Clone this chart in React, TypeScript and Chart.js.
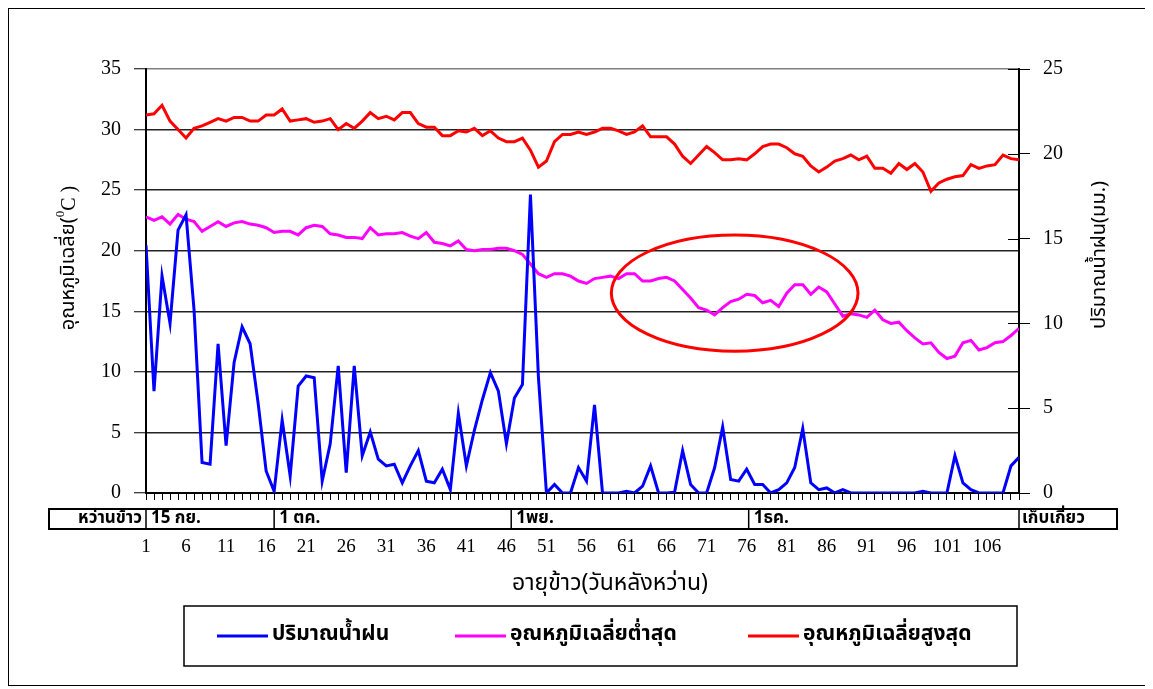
import React, { useEffect, useRef } from 'react';
import { Chart, registerables } from 'chart.js';

Chart.register(...registerables);

// ---------- data ----------
const days: number[] = Array.from({ length: 110 }, (_, i) => i + 1);

const rainfall: number[] = [
  14.6, 6.0, 12.8, 10.0, 15.5, 16.4, 10.8, 1.8, 1.7, 8.8,
  2.8, 7.7, 9.8, 8.8, 5.3, 1.3, 0.1, 4.3, 1.0, 6.3,
  6.9, 6.8, 0.7, 2.9, 7.5, 1.2, 7.5, 2.2, 3.6, 2.0,
  1.6, 1.7, 0.6, 1.6, 2.5, 0.7, 0.6, 1.4, 0.2, 4.7,
  1.6, 3.7, 5.5, 7.1, 6.0, 2.9, 5.6, 6.4, 17.6, 6.8,
  0.0, 0.5, 0.0, 0.0, 1.5, 0.7, 5.2, 0.0, 0.0, 0.0,
  0.1, 0.0, 0.4, 1.6, 0.0, 0.0, 0.05, 2.5, 0.5, 0.0,
  0.0, 1.5, 3.9, 0.8, 0.7, 1.4, 0.5, 0.5, 0.0, 0.2,
  0.6, 1.5, 3.8, 0.6, 0.2, 0.3, 0.0, 0.2, 0.0, 0.0,
  0.0, 0.0, 0.0, 0.0, 0.0, 0.0, 0.0, 0.1, 0.0, 0.0,
  0.0, 2.2, 0.6, 0.2, 0.0, 0.0, 0.0, 0.0, 1.6, 2.1,
];

const minTemp: number[] = [
  22.8, 22.5, 22.8, 22.2, 23.0, 22.6, 22.4, 21.6, 22.0, 22.4,
  22.0, 22.3, 22.4, 22.2, 22.1, 21.9, 21.5, 21.6, 21.6, 21.3,
  21.9, 22.1, 22.0, 21.4, 21.3, 21.1, 21.1, 21.0, 21.9, 21.3,
  21.4, 21.4, 21.5, 21.2, 21.0, 21.5, 20.7, 20.6, 20.4, 20.8,
  20.1, 20.0, 20.1, 20.1, 20.2, 20.2, 20.0, 19.7, 18.9, 18.1,
  17.8, 18.1, 18.1, 17.9, 17.5, 17.3, 17.7, 17.8, 17.9, 17.7,
  18.1, 18.1, 17.5, 17.5, 17.7, 17.8, 17.5, 16.8, 16.1, 15.3,
  15.1, 14.7, 15.3, 15.8, 16.0, 16.4, 16.3, 15.7, 15.9, 15.4,
  16.5, 17.2, 17.2, 16.4, 17.0, 16.6, 15.6, 14.6, 14.8, 14.7,
  14.5, 15.1, 14.3, 14.0, 14.1, 13.4, 12.8, 12.3, 12.4, 11.6,
  11.1, 11.3, 12.4, 12.6, 11.8, 12.0, 12.4, 12.5, 13.0, 13.6,
];

const maxTemp: number[] = [
  31.2, 31.3, 32.0, 30.7, 30.0, 29.3, 30.1, 30.3, 30.6, 30.9,
  30.7, 31.0, 31.0, 30.7, 30.7, 31.2, 31.2, 31.7, 30.7, 30.8,
  30.9, 30.6, 30.7, 30.9, 30.0, 30.5, 30.1, 30.7, 31.4, 30.9,
  31.1, 30.8, 31.4, 31.4, 30.5, 30.2, 30.2, 29.5, 29.5, 29.9,
  29.8, 30.1, 29.5, 29.9, 29.3, 29.0, 29.0, 29.3, 28.3, 26.9,
  27.4, 29.0, 29.6, 29.6, 29.8, 29.6, 29.8, 30.1, 30.1, 29.9,
  29.6, 29.8, 30.3, 29.4, 29.4, 29.4, 28.8, 27.8, 27.2, 27.9,
  28.6, 28.1, 27.5, 27.5, 27.6, 27.5, 28.0, 28.6, 28.8, 28.8,
  28.5, 28.0, 27.8, 27.0, 26.5, 26.9, 27.4, 27.6, 27.9, 27.5,
  27.8, 26.8, 26.8, 26.4, 27.2, 26.7, 27.2, 26.5, 24.9, 25.6,
  25.9, 26.1, 26.2, 27.1, 26.8, 27.0, 27.1, 27.9, 27.6, 27.5,
];

const seriesNames: string[] = ['ปริมาณน้ำฝน', 'อุณหภูมิเฉลี่ยต่ำสุด', 'อุณหภูมิเฉลี่ยสูงสุด'];
const seriesColors: string[] = ['#0000FF', '#FF00FF', '#FF0000'];

// growth-stage row under the axis: labels and the day at which each cell starts
const stageLabels: string[] = ['15 กย.', '1 ตค.', '1พย.', '1ธค.'];
const stageStartDays: number[] = [1, 17, 46.6, 76.25];
const sowLabel = 'หว่านข้าว';
const harvestLabel = 'เก็บเกี่ยว';

// highlighted region (ellipse) in data units
const ellipseCenterDay = 74.5;
const ellipseCenterTemp = 16.5;
const ellipseHalfDays = 15.4;
const ellipseHalfTemp = 4.8;

const xTitle = 'อายุข้าว(วันหลังหว่าน)';
const yLeftTitle = 'อุณหภูมิเฉลี่ย(';
const yRightTitle = 'ปริมาณน้ำฝน(มม.)';

const SERIF = "'Liberation Serif', 'Times New Roman', serif";
const THAI = "'Noto Sans Thai', 'Noto Serif Thai', Loma, Garuda, Kinnari, 'DejaVu Sans', sans-serif";

// ---------- decoration plugin ----------
const decor = {
  id: 'decor',
  afterDraw(chart: any) {
    const ctx: CanvasRenderingContext2D = chart.ctx;
    const xs = chart.scales.x;
    const yl = chart.scales.yTemp;
    const yr = chart.scales.yRain;
    const area = chart.chartArea;

    ctx.save();
    // inner half of right-axis ticks
    ctx.strokeStyle = '#000';
    ctx.lineWidth = 1;
    yr.ticks.forEach((t: any) => {
      const y = Math.round(yr.getPixelForValue(t.value)) + 0.5;
      ctx.beginPath();
      ctx.moveTo(area.right - 11, y);
      ctx.lineTo(area.right, y);
      ctx.stroke();
    });

    // ellipse
    const cx = xs.getPixelForValue(ellipseCenterDay);
    const rx = xs.getPixelForValue(ellipseCenterDay + ellipseHalfDays) - cx;
    const cy = yl.getPixelForValue(ellipseCenterTemp);
    const ry = cy - yl.getPixelForValue(ellipseCenterTemp + ellipseHalfTemp);
    ctx.strokeStyle = '#FF0000';
    ctx.lineWidth = 3;
    ctx.beginPath();
    ctx.ellipse(cx, cy, rx, ry, 0, 0, Math.PI * 2);
    ctx.stroke();

    // stage table
    const tTop = 500, tBot = 520, tLeft = 40, tRight = 1108;
    ctx.strokeStyle = '#000';
    ctx.lineWidth = 2;
    ctx.strokeRect(tLeft, tTop, tRight - tLeft, tBot - tTop);
    const seps = stageStartDays.map((d) => xs.getPixelForValue(d));
    seps.push(area.right);
    ctx.lineWidth = 1.5;
    seps.forEach((sx) => {
      ctx.beginPath();
      ctx.moveTo(sx, tTop);
      ctx.lineTo(sx, tBot);
      ctx.stroke();
    });
    ctx.fillStyle = '#000';
    ctx.font = `bold 17px ${THAI}`;
    ctx.textBaseline = 'middle';
    ctx.textAlign = 'right';
    ctx.fillText(sowLabel, seps[0] - 4, (tTop + tBot) / 2 + 1);
    ctx.textAlign = 'left';
    stageLabels.forEach((lab, i) => ctx.fillText(lab, seps[i] + 5, (tTop + tBot) / 2 + 1));
    ctx.fillText(harvestLabel, area.right + 3, (tTop + tBot) / 2 + 1);

    // x title
    ctx.font = `23px ${THAI}`;
    ctx.textAlign = 'center';
    ctx.fillText(xTitle, 601, 576);

    // left title (rotated)
    ctx.save();
    ctx.translate(61, 249);
    ctx.rotate(-Math.PI / 2);
    ctx.font = `20px ${THAI}`;
    const p1 = yLeftTitle;
    const w1 = ctx.measureText(p1).width;
    ctx.font = `13px ${SERIF}`;
    const w0 = ctx.measureText('0').width;
    ctx.font = `20px ${SERIF}`;
    const w2 = ctx.measureText('C )').width;
    const total = w1 + w0 + w2;
    let x0 = -total / 2;
    ctx.textAlign = 'left';
    ctx.font = `20px ${THAI}`;
    ctx.fillText(p1, x0, 0);
    x0 += w1;
    ctx.font = `13px ${SERIF}`;
    ctx.fillText('0', x0, -9);
    x0 += w0;
    ctx.font = `20px ${SERIF}`;
    ctx.fillText('C )', x0, 0);
    ctx.restore();

    // right title (reads bottom to top)
    ctx.save();
    ctx.translate(1092, 246);
    ctx.rotate(-Math.PI / 2);
    ctx.font = `20px ${THAI}`;
    ctx.textAlign = 'center';
    ctx.fillText(yRightTitle, 0, 0);
    ctx.restore();

    // legend box
    const lx = 175, ly = 597, lw = 833, lh = 60;
    ctx.lineWidth = 1.5;
    ctx.strokeStyle = '#000';
    ctx.strokeRect(lx, ly, lw, lh);
    const itemX = [208, 446, 739];
    const midY = ly + lh / 2;
    ctx.font = `bold 21px ${THAI}`;
    ctx.textAlign = 'left';
    seriesNames.forEach((name, i) => {
      ctx.strokeStyle = seriesColors[i];
      ctx.lineWidth = 3;
      ctx.beginPath();
      ctx.moveTo(itemX[i], midY);
      ctx.lineTo(itemX[i] + 51, midY);
      ctx.stroke();
      ctx.fillStyle = '#000';
      ctx.fillText(name, itemX[i] + 55, midY);
    });
    ctx.restore();
  },
};

export default function App() {
  const ref = useRef<HTMLCanvasElement | null>(null);

  useEffect(() => {
    if (!ref.current) return;
    const toXY = (arr: number[]) => arr.map((v, i) => ({ x: days[i], y: v }));
    const chart = new Chart(ref.current, {
      type: 'line',
      data: {
        datasets: [
          {
            label: seriesNames[0],
            data: toXY(rainfall),
            yAxisID: 'yRain',
            borderColor: seriesColors[0],
            borderWidth: 3,
            pointRadius: 0,
            tension: 0,
          },
          {
            label: seriesNames[1],
            data: toXY(minTemp),
            yAxisID: 'yTemp',
            borderColor: seriesColors[1],
            borderWidth: 3,
            pointRadius: 0,
            tension: 0,
          },
          {
            label: seriesNames[2],
            data: toXY(maxTemp),
            yAxisID: 'yTemp',
            borderColor: seriesColors[2],
            borderWidth: 3,
            pointRadius: 0,
            tension: 0,
          },
        ],
      },
      options: {
        animation: false,
        responsive: false,
        maintainAspectRatio: false,
        layout: { padding: { top: 60, left: 0, right: 0, bottom: 0 } },
        plugins: { legend: { display: false }, tooltip: { enabled: false }, title: { display: false } },
        scales: {
          x: {
            type: 'linear',
            min: 1,
            max: 110,
            afterFit: (s: any) => { s.height = 192; },
            grid: { drawOnChartArea: false, drawTicks: true, tickLength: 7, tickColor: '#000', tickWidth: 1 },
            border: { display: true, color: '#000', width: 2 },
            ticks: {
              stepSize: 1,
              autoSkip: false,
              maxRotation: 0,
              padding: 36,
              color: '#000',
              font: { family: SERIF, size: 19 },
              callback: (v: any) => ((Number(v) - 1) % 5 === 0 ? String(v) : ''),
            },
          },
          yTemp: {
            type: 'linear',
            position: 'left',
            min: 0,
            max: 35,
            afterFit: (s: any) => { s.width = 137; },
            grid: {
              color: (c: any) => (c.tick && c.tick.value === 35 ? '#808080' : '#222'),
              lineWidth: 1.5,
              tickLength: 12,
              tickColor: '#000',
              tickWidth: 1,
            },
            border: { display: true, color: '#000', width: 2 },
            ticks: { stepSize: 5, padding: 13, color: '#000', font: { family: SERIF, size: 20 } },
          },
          yRain: {
            type: 'linear',
            position: 'right',
            min: 0,
            max: 25,
            afterFit: (s: any) => { s.width = 129; },
            grid: { drawOnChartArea: false, tickLength: 11, tickColor: '#000', tickWidth: 1 },
            border: { display: true, color: '#000', width: 2 },
            ticks: { stepSize: 5, padding: 13, color: '#000', font: { family: SERIF, size: 20 } },
          },
        },
      },
      plugins: [decor],
    });
    return () => chart.destroy();
  }, []);

  return (
    <div style={{ width: 1139, height: 676, border: '1px solid #000', position: 'relative' }}>
      <canvas ref={ref} width={1139} height={676} style={{ display: 'block', width: 1139, height: 676 }} />
    </div>
  );
}
